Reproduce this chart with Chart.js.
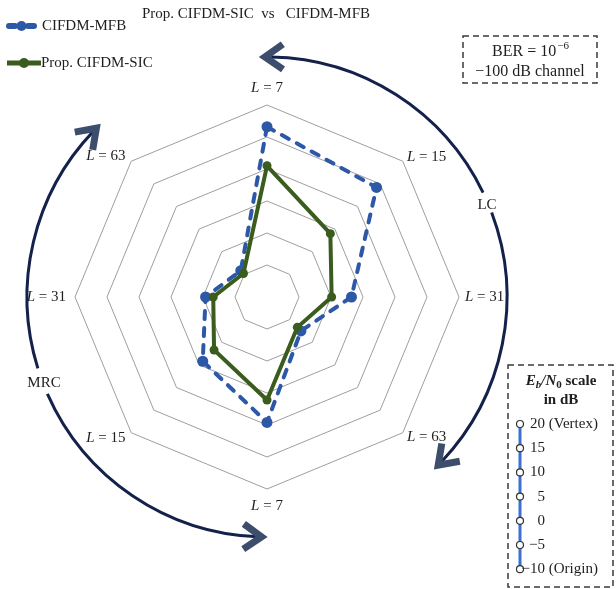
<!DOCTYPE html>
<html>
<head>
<meta charset="utf-8">
<script src="https://cdn.jsdelivr.net/npm/chart.js@4/dist/chart.umd.min.js"></script>
<style>
  html, body { margin: 0; padding: 0; background: #ffffff; }
  canvas { display: block; }
</style>
</head>
<body>
<canvas id="radar" width="616" height="589"></canvas>
<script>
// Spoke categories: list size L, clockwise from the top (LC half, then MRC half)
const listLengths = [7, 15, 31, 63, 7, 15, 31, 63];
// Required Eb/N0 (dB) for BER = 1e-6 on each spoke
const mfbValues = [16.6, 14.2, 3.2, -2.5, 9.6, 4.2, -0.4, -4.2];
const sicValues = [10.5, 4.0, 0.1, -3.3, 6.1, 1.7, -1.6, -4.8];
const seriesNames = ['CIFDM-MFB', 'Prop. CIFDM-SIC'];
// Eb/N0 key drawn in the lower-right box
const keyTickValues = [20, 15, 10, 5, 0, -5, -10];
const keyTickSuffix = [' (Vertex)', '', '', '', '', '', ' (Origin)'];
const titleText = 'Prop. CIFDM-SIC  vs   CIFDM-MFB';

const SERIF = '"Liberation Serif", "Times New Roman", serif';
const font = (size, style = '', weight = '') => `${style} ${weight} ${size}px ${SERIF}`.trim();
const TEXT = '#1e1e1e';
const BLUE = '#2d58a8';
const GREEN = '#3a5c1d';
const NAVY = '#14214a';
const SLATE = '#3d4e6c';

function drawAxisLabel(ctx, value, x, y, align) {
  const italic = font(15, 'italic');
  const upright = font(15);
  const rest = ' = ' + value;
  ctx.font = italic;
  const wL = ctx.measureText('L').width;
  ctx.font = upright;
  const w = wL + ctx.measureText(rest).width;
  const x0 = align === 'left' ? x : align === 'right' ? x - w : x - w / 2;
  ctx.textAlign = 'left';
  ctx.textBaseline = 'middle';
  ctx.fillStyle = TEXT;
  ctx.font = italic;
  ctx.fillText('L', x0, y);
  ctx.font = upright;
  ctx.fillText(rest, x0 + wL, y);
}

function chevron(ctx, tx, ty, dx, dy, len, half) {
  const rot = (a) => [dx * Math.cos(a) - dy * Math.sin(a), dx * Math.sin(a) + dy * Math.cos(a)];
  const [ax, ay] = rot(half);
  const [bx, by] = rot(-half);
  ctx.beginPath();
  ctx.moveTo(tx - ax * len, ty - ay * len);
  ctx.lineTo(tx, ty);
  ctx.lineTo(tx - bx * len, ty - by * len);
  ctx.stroke();
}

const decorations = {
  id: 'decorations',
  afterDraw(chart) {
    const ctx = chart.ctx;
    const r = chart.scales.r;
    const cx = r.xCenter, cy = r.yCenter, R = r.drawingArea;
    const rad = (d) => d * Math.PI / 180;
    ctx.save();

    // Title
    ctx.fillStyle = TEXT;
    ctx.font = font(15);
    ctx.textAlign = 'center';
    ctx.textBaseline = 'middle';
    ctx.fillText(titleText, 256, 14);

    // Legend
    const sets = chart.data.datasets;
    ctx.lineCap = 'round';
    ctx.strokeStyle = sets[0].borderColor;
    ctx.fillStyle = sets[0].borderColor;
    ctx.lineWidth = 6;
    ctx.beginPath();
    ctx.moveTo(9, 26); ctx.lineTo(15, 26);
    ctx.moveTo(28, 26); ctx.lineTo(34, 26);
    ctx.stroke();
    ctx.beginPath(); ctx.arc(21.5, 26, 5, 0, Math.PI * 2); ctx.fill();
    ctx.strokeStyle = sets[1].borderColor;
    ctx.fillStyle = sets[1].borderColor;
    ctx.lineWidth = 5;
    ctx.lineCap = 'butt';
    ctx.beginPath(); ctx.moveTo(7, 63); ctx.lineTo(41, 63); ctx.stroke();
    ctx.beginPath(); ctx.arc(24, 63, 5, 0, Math.PI * 2); ctx.fill();
    ctx.fillStyle = TEXT;
    ctx.font = font(15);
    ctx.textAlign = 'left';
    ctx.fillText(sets[0].label, 42, 26);
    ctx.fillText(sets[1].label, 41, 63);

    // Spoke labels
    const labels = chart.data.labels;
    labels.forEach((v, i) => {
      let dist, align;
      if (i === 0 || i === 4) { dist = R + 17; align = 'center'; }
      else if (i < 4) { dist = R + 6; align = 'left'; }
      else { dist = R + (i === 6 ? 9 : 8); align = 'right'; }
      const p = r.getPointPosition(i, dist);
      drawAxisLabel(ctx, v, p.x, p.y, align);
    });

    // LC / MRC direction arcs
    const AR = R * 1.25;
    ctx.strokeStyle = NAVY;
    ctx.lineWidth = 3;
    ctx.lineCap = 'butt';
    const arc = (a0, a1) => { ctx.beginPath(); ctx.arc(cx, cy, AR, rad(a0), rad(a1)); ctx.stroke(); };
    arc(-89, -25.8); arc(-20.6, 43.5);
    arc(92, 156.2); arc(162.7, 223.8);

    ctx.strokeStyle = SLATE;
    ctx.lineWidth = 7;
    ctx.lineJoin = 'miter';
    const head = (angDeg, increasing) => {
      const a = rad(angDeg);
      const tx = cx + AR * Math.cos(a), ty = cy + AR * Math.sin(a);
      const dx = increasing ? -Math.sin(a) : Math.sin(a);
      const dy = increasing ? Math.cos(a) : -Math.cos(a);
      chevron(ctx, tx, ty, dx, dy, 22, rad(35));
    };
    head(-90.5, false);
    head(44.5, true);
    head(224.7, true);
    head(91.3, false);

    ctx.fillStyle = TEXT;
    ctx.font = font(15);
    ctx.textAlign = 'center';
    ctx.textBaseline = 'middle';
    ctx.fillText('LC', 487, 205);
    ctx.fillText('MRC', 44, 383);

    // Note boxes
    ctx.setLineDash([6, 4]);
    ctx.strokeStyle = '#3a3a3a';
    ctx.lineWidth = 1.5;
    ctx.strokeRect(463, 36, 134, 47);
    ctx.strokeRect(508, 365, 105, 222);
    ctx.setLineDash([]);

    ctx.fillStyle = TEXT;
    ctx.font = font(16);
    ctx.textAlign = 'left';
    const berMain = 'BER = 10';
    const berExp = '\u22126';
    const wMain = ctx.measureText(berMain).width;
    ctx.font = font(11);
    const wExp = ctx.measureText(berExp).width;
    const bx0 = 530 - (wMain + wExp) / 2;
    ctx.font = font(16);
    ctx.fillText(berMain, bx0, 52);
    ctx.font = font(11);
    ctx.fillText(berExp, bx0 + wMain + 1, 46);
    ctx.font = font(16);
    ctx.textAlign = 'center';
    ctx.fillText('\u2212100 dB channel', 530, 72);

    // Eb/N0 key
    const parts = [
      ['E', font(15, 'italic', 'bold'), 0],
      ['b', font(11, 'italic', 'bold'), 4],
      ['/N', font(15, 'italic', 'bold'), 0],
      ['0', font(11, '', 'bold'), 4],
      [' scale', font(15, '', 'bold'), 0]
    ];
    let tw = 0;
    parts.forEach(([t, f]) => { ctx.font = f; tw += ctx.measureText(t).width; });
    let px = 561 - tw / 2;
    ctx.textAlign = 'left';
    parts.forEach(([t, f, dy]) => { ctx.font = f; ctx.fillText(t, px, 381 + dy); px += ctx.measureText(t).width; });
    ctx.font = font(15, '', 'bold');
    ctx.textAlign = 'center';
    ctx.fillText('in dB', 561, 400);

    const keyY = (v) => 424 + (20 - v) / 5 * 24.2;
    const kx = 520;
    ctx.strokeStyle = '#3b6fd0';
    ctx.lineWidth = 3;
    ctx.beginPath();
    ctx.moveTo(kx, keyY(keyTickValues[0]));
    ctx.lineTo(kx, keyY(keyTickValues[keyTickValues.length - 1]));
    ctx.stroke();
    keyTickValues.forEach((v, i) => {
      const y = keyY(v);
      ctx.beginPath();
      ctx.arc(kx, y, 3.5, 0, Math.PI * 2);
      ctx.fillStyle = '#ffffff';
      ctx.fill();
      ctx.strokeStyle = '#333333';
      ctx.lineWidth = 1.2;
      ctx.stroke();
      ctx.fillStyle = TEXT;
      ctx.font = font(15);
      ctx.textAlign = 'right';
      const num = v < 0 ? '\u2212' + Math.abs(v) : String(v);
      ctx.fillText(num, 545, y);
      if (keyTickSuffix[i]) {
        ctx.textAlign = 'left';
        ctx.fillText(keyTickSuffix[i], 545, y);
      }
    });

    ctx.restore();
  }
};

new Chart(document.getElementById('radar'), {
  type: 'radar',
  data: {
    labels: listLengths,
    datasets: [
      {
        label: seriesNames[0],
        data: mfbValues,
        order: 1,
        borderColor: BLUE,
        backgroundColor: 'rgba(0,0,0,0)',
        borderWidth: 4,
        borderDash: [8, 9],
        borderCapStyle: 'round',
        fill: false,
        tension: 0,
        pointRadius: 5.5,
        pointBackgroundColor: BLUE,
        pointBorderColor: BLUE,
        pointBorderWidth: 0
      },
      {
        label: seriesNames[1],
        data: sicValues,
        order: 0,
        borderColor: GREEN,
        backgroundColor: 'rgba(0,0,0,0)',
        borderWidth: 4,
        fill: false,
        tension: 0,
        pointRadius: 4.5,
        pointBackgroundColor: GREEN,
        pointBorderColor: GREEN,
        pointBorderWidth: 0
      }
    ]
  },
  options: {
    responsive: false,
    animation: false,
    devicePixelRatio: 1,
    layout: { padding: { left: 75, top: 105, right: 157, bottom: 100 } },
    plugins: {
      legend: { display: false },
      title: { display: false },
      tooltip: { enabled: false }
    },
    scales: {
      r: {
        min: -10,
        max: 20,
        ticks: { stepSize: 5, display: false },
        grid: { color: '#9e9e9e', lineWidth: 1 },
        angleLines: { display: false },
        pointLabels: { display: false }
      }
    }
  },
  plugins: [decorations]
});
</script>
</body>
</html>
